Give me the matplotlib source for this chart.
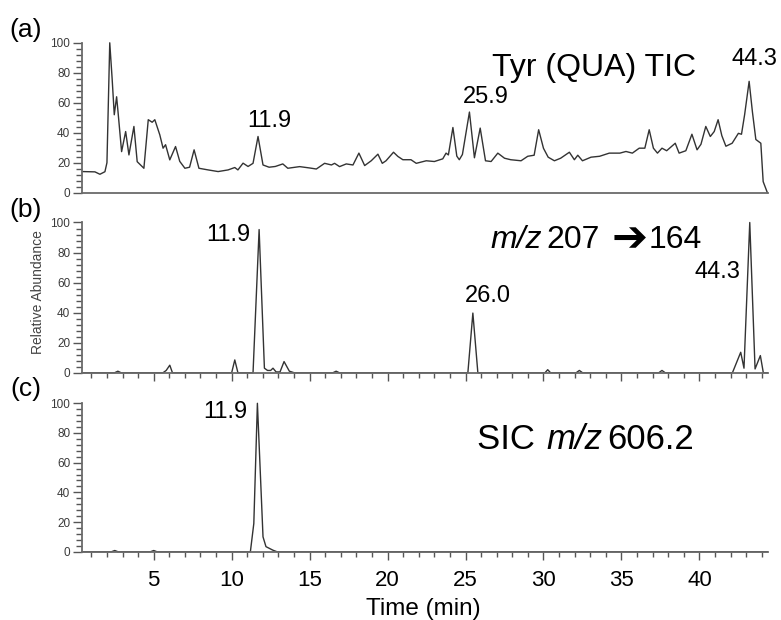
import matplotlib
matplotlib.use('Agg')
import matplotlib.pyplot as plt
from matplotlib.ticker import MultipleLocator

plt.rcParams['font.family'] = ['Liberation Sans', 'DejaVu Sans']

# (a) Tyr (QUA) TIC: time (min), relative abundance
tic_time = [0.42, 1.23, 1.55, 1.87, 2.0, 2.18, 2.33, 2.47, 2.62, 2.71, 2.94, 3.2, 3.41, 3.73, 3.94,
            4.37, 4.65, 4.9, 5.07, 5.39, 5.6, 5.76, 6.03, 6.4, 6.67, 7.0, 7.3, 7.59, 7.9, 8.49,
            9.13, 9.77, 10.2, 10.4, 10.73, 11.05, 11.37, 11.69, 12.01, 12.4, 12.8, 13.28, 13.6, 14.36, 15.0,
            15.43, 15.96, 16.4, 16.6, 16.92, 17.35, 17.78, 18.16, 18.53, 18.95, 19.38, 19.66, 19.9, 20.38, 20.66,
            20.98, 21.5, 21.84, 22.48, 23.0, 23.54, 23.75, 23.9, 24.19, 24.44, 24.6, 24.8, 25.25, 25.57, 25.94,
            26.28, 26.64, 27.07, 27.5, 27.9, 28.56, 28.99, 29.4, 29.69, 30.0, 30.3, 30.7, 31.1, 31.66, 31.98,
            32.2, 32.5, 33.05, 33.6, 34.22, 34.9, 35.29, 35.7, 36.14, 36.5, 36.78, 37.05, 37.31, 37.6, 37.9,
            38.45, 38.7, 39.13, 39.52, 39.85, 40.1, 40.41, 40.7, 40.95, 41.2, 41.44, 41.7, 42.1, 42.5, 42.7,
            42.9, 43.19, 43.4, 43.62, 43.94, 44.09, 44.36]
tic_int = [14.1, 13.9, 12.3, 14.0, 20, 100, 76.5, 52, 64, 54, 27.4, 40.8, 25.2, 44.2, 20.7,
           16.3, 48.7, 47, 48.7, 38.6, 29.7, 32, 21.9, 30.8, 20.9, 16.3, 17, 28.6, 16.3, 15.2,
           14.1, 15.2, 16.8, 15.2, 19.7, 17.5, 19.6, 37.5, 18.5, 17, 17.5, 19.2, 16.3, 17.4, 16.5,
           15.8, 19.6, 18.5, 19.6, 17.4, 19.2, 18.5, 26.4, 18.1, 21.3, 25.7, 19.6, 21.3, 27, 24.2,
           22, 22, 19.6, 21.3, 20.8, 22.6, 26.4, 25.2, 43.5, 24.4, 22, 25.5, 53.8, 23.3, 43.1,
           21.3, 20.8, 26.4, 23, 22, 21.3, 24.3, 25, 42, 29.6, 23.7, 21.3, 23, 27, 22,
           25, 21.3, 23.7, 24.3, 26.4, 26.4, 27.5, 26.4, 29.7, 29.7, 42, 29.7, 26.4, 29.7, 28,
           33, 26.4, 28, 39, 28.6, 32.3, 44.2, 37.5, 40.8, 48.7, 38, 31, 33, 39.6, 39,
           52, 74.3, 54, 35.5, 33, 7.4, 0]

# (b) m/z 207 -> 164
mrm_time = [0.4, 2.5, 2.7, 2.9, 5.6, 5.8, 6.03, 6.2, 10.0, 10.2, 10.4, 11.37, 11.76, 12.1, 12.3,
            12.5, 12.65, 12.85, 13.1, 13.36, 13.7, 14.0, 16.5, 16.7, 16.9, 25.15, 25.47, 25.79, 30.1, 30.27, 30.45,
            32.1, 32.3, 32.5, 37.4, 37.6, 37.8, 42.12, 42.65, 42.86, 43.23, 43.57, 43.91, 44.1, 44.36]
mrm_int = [0, 0, 1, 0, 0, 1.5, 5, 0, 0, 8.5, 0, 0, 95.3, 3, 1.5,
           1.5, 3, 0.5, 0.5, 7.4, 1, 0, 0, 1, 0, 0, 39.7, 0, 0, 2, 0,
           0, 1.5, 0, 0, 1.5, 0, 0, 13.6, 3, 100, 2.5, 11.4, 0, 0]

# (c) SIC m/z 606.2
sic_time = [0.4, 2.3, 2.5, 2.7, 4.8, 5.0, 5.2, 11.2, 11.42, 11.65, 12.01, 12.2, 12.65, 12.9, 44.36]
sic_int = [0, 0, 0.8, 0, 0, 0.8, 0, 0, 19, 100, 10, 3.4, 1, 0, 0]

W, H = 781, 620
fig = plt.figure(figsize=(W / 100, H / 100), dpi=100)


def px_box(top, bottom, left=82, right=768):
    return [left / W, 1 - bottom / H, (right - left) / W, (bottom - top) / H]


def put(x, y, s, **kw):
    return fig.text(x / W, 1 - y / H, s, **kw)


panels = [
    (px_box(42.8, 192.7), tic_time, tic_int),
    (px_box(222.5, 372.7), mrm_time, mrm_int),
    (px_box(403.3, 551.7), sic_time, sic_int),
]
axes = []
for i, (box, t, v) in enumerate(panels):
    ax = fig.add_axes(box)
    ax.plot(t, v, color='#333333', lw=1.0, clip_on=False)
    ax.set_xlim(0.4, 44.4)
    ax.set_ylim(0, 100)
    for s in ('top', 'right'):
        ax.spines[s].set_visible(False)
    for s in ('left', 'bottom'):
        ax.spines[s].set_color('#6a6a6a')
        ax.spines[s].set_linewidth(1.3)
    ax.yaxis.set_major_locator(MultipleLocator(20))
    ax.yaxis.set_minor_locator(MultipleLocator(4))
    ax.tick_params(axis='y', which='major', direction='out', length=6.5, width=1,
                   color='#555555', labelcolor='#3a3a3a', labelsize=8.5, pad=2)
    ax.tick_params(axis='y', which='minor', direction='out', length=4, width=1, color='#555555')
    if i == 0:
        ax.tick_params(axis='x', which='both', length=0, labelbottom=False)
    else:
        ax.xaxis.set_major_locator(MultipleLocator(5))
        ax.xaxis.set_minor_locator(MultipleLocator(1))
        ax.tick_params(axis='x', which='major', direction='out', length=6, width=1,
                       color='#555555', labelsize=16, pad=7, labelbottom=(i == 2))
        ax.tick_params(axis='x', which='minor', direction='out', length=3.6, width=1, color='#555555')
    axes.append(ax)

# panel letters
for y, s in ((30, '(a)'), (210, '(b)'), (389, '(c)')):
    put(26, y, s, fontsize=19, ha='center', va='center')

# peak labels
for x, y, s in ((269, 126.7, '11.9'), (486, 102.7, '25.9'), (754.3, 65, '44.3'),
                (228, 240.7, '11.9'), (487.5, 301.7, '26.0'), (717.5, 278.3, '44.3'),
                (225, 418, '11.9')):
    put(x, y, s, fontsize=17, ha='center', va='baseline')

renderer = fig.canvas.get_renderer()


def rich(x, y, parts):
    # parts: text, style, font size, gap before (px), baseline shift (px)
    for s, style, size, gap, dy in parts:
        t = put(x + gap, y + dy, s, fontsize=size, ha='left', va='baseline', style=style)
        x = t.get_window_extent(renderer=renderer).x1


put(492, 76, 'Tyr (QUA) TIC', fontsize=23, ha='left', va='baseline')
rich(490, 248, [('m/z', 'italic', 23, 0, 0), ('207', 'normal', 23, 5, 0),
                ('\u2794', 'normal', 31, 12, 3), ('164', 'normal', 23, 1, 0)])
rich(477, 449, [('SIC ', 'normal', 25, 0, 0), ('m/z', 'italic', 25, 2, 0),
                ('606.2', 'normal', 25, 5, 0)])

put(423, 615, 'Time (min)', fontsize=17.5, ha='center', va='baseline')
put(38, 292, 'Relative Abundance', fontsize=10, rotation=90, ha='center', va='center', color='#444444')

fig.savefig('out.png', dpi=100)
